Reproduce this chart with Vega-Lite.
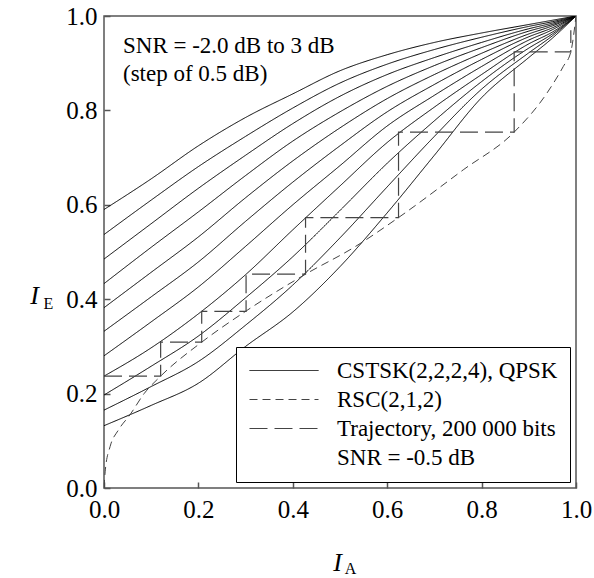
{
  "$schema": "https://vega.github.io/schema/vega-lite/v6.json",
  "width": 472,
  "height": 472,
  "autosize": {"type": "none"},
  "padding": {"left": 104, "top": 16, "right": 18, "bottom": 90},
  "background": "white",
  "config": {
    "view": {"stroke": "#555", "strokeWidth": 1.5},
    "font": "Liberation Serif"
  },
  "title": {
    "text": ["SNR = -2.0 dB to 3 dB", "(step of 0.5 dB)"],
    "anchor": "start",
    "frame": "group",
    "orient": "top",
    "offset": -82,
    "baseline": "top",
    "dx": 19,
    "font": "Liberation Serif",
    "fontSize": 23,
    "fontWeight": "normal",
    "color": "black",
    "lineHeight": 28
  },
  "datasets": {
    "curves": [
      {"snr": -2, "x": 0, "y": 0.132}, {"snr": -2, "x": 0.1, "y": 0.175}, {"snr": -2, "x": 0.2, "y": 0.222}, {"snr": -2, "x": 0.3, "y": 0.3}, {"snr": -2, "x": 0.4, "y": 0.373}, {"snr": -2, "x": 0.5, "y": 0.469}, {"snr": -2, "x": 0.6, "y": 0.583}, {"snr": -2, "x": 0.7, "y": 0.705}, {"snr": -2, "x": 0.8, "y": 0.827}, {"snr": -2, "x": 0.9, "y": 0.912}, {"snr": -2, "x": 0.95, "y": 0.953}, {"snr": -2, "x": 1, "y": 1},
      {"snr": -1.5, "x": 0, "y": 0.165}, {"snr": -1.5, "x": 0.1, "y": 0.215}, {"snr": -1.5, "x": 0.2, "y": 0.268}, {"snr": -1.5, "x": 0.3, "y": 0.345}, {"snr": -1.5, "x": 0.4, "y": 0.43}, {"snr": -1.5, "x": 0.5, "y": 0.53}, {"snr": -1.5, "x": 0.6, "y": 0.638}, {"snr": -1.5, "x": 0.7, "y": 0.745}, {"snr": -1.5, "x": 0.8, "y": 0.845}, {"snr": -1.5, "x": 0.9, "y": 0.922}, {"snr": -1.5, "x": 0.95, "y": 0.958}, {"snr": -1.5, "x": 1, "y": 1},
      {"snr": -1, "x": 0, "y": 0.197}, {"snr": -1, "x": 0.1, "y": 0.258}, {"snr": -1, "x": 0.2, "y": 0.322}, {"snr": -1, "x": 0.3, "y": 0.403}, {"snr": -1, "x": 0.4, "y": 0.49}, {"snr": -1, "x": 0.5, "y": 0.588}, {"snr": -1, "x": 0.6, "y": 0.688}, {"snr": -1, "x": 0.7, "y": 0.778}, {"snr": -1, "x": 0.8, "y": 0.861}, {"snr": -1, "x": 0.9, "y": 0.932}, {"snr": -1, "x": 0.95, "y": 0.962}, {"snr": -1, "x": 1, "y": 1},
      {"snr": -0.5, "x": 0, "y": 0.237}, {"snr": -0.5, "x": 0.1, "y": 0.297}, {"snr": -0.5, "x": 0.2, "y": 0.369}, {"snr": -0.5, "x": 0.3, "y": 0.452}, {"snr": -0.5, "x": 0.4, "y": 0.547}, {"snr": -0.5, "x": 0.5, "y": 0.64}, {"snr": -0.5, "x": 0.6, "y": 0.732}, {"snr": -0.5, "x": 0.7, "y": 0.807}, {"snr": -0.5, "x": 0.8, "y": 0.876}, {"snr": -0.5, "x": 0.9, "y": 0.941}, {"snr": -0.5, "x": 0.95, "y": 0.966}, {"snr": -0.5, "x": 1, "y": 1},
      {"snr": 0, "x": 0, "y": 0.28}, {"snr": 0, "x": 0.1, "y": 0.352}, {"snr": 0, "x": 0.2, "y": 0.426}, {"snr": 0, "x": 0.3, "y": 0.512}, {"snr": 0, "x": 0.4, "y": 0.6}, {"snr": 0, "x": 0.5, "y": 0.683}, {"snr": 0, "x": 0.6, "y": 0.767}, {"snr": 0, "x": 0.7, "y": 0.832}, {"snr": 0, "x": 0.8, "y": 0.893}, {"snr": 0, "x": 0.9, "y": 0.949}, {"snr": 0, "x": 0.95, "y": 0.971}, {"snr": 0, "x": 1, "y": 1},
      {"snr": 0.5, "x": 0, "y": 0.332}, {"snr": 0.5, "x": 0.1, "y": 0.405}, {"snr": 0.5, "x": 0.2, "y": 0.479}, {"snr": 0.5, "x": 0.3, "y": 0.565}, {"snr": 0.5, "x": 0.4, "y": 0.648}, {"snr": 0.5, "x": 0.5, "y": 0.725}, {"snr": 0.5, "x": 0.6, "y": 0.797}, {"snr": 0.5, "x": 0.7, "y": 0.855}, {"snr": 0.5, "x": 0.8, "y": 0.908}, {"snr": 0.5, "x": 0.9, "y": 0.956}, {"snr": 0.5, "x": 0.95, "y": 0.975}, {"snr": 0.5, "x": 1, "y": 1},
      {"snr": 1, "x": 0, "y": 0.382}, {"snr": 1, "x": 0.1, "y": 0.457}, {"snr": 1, "x": 0.2, "y": 0.532}, {"snr": 1, "x": 0.3, "y": 0.615}, {"snr": 1, "x": 0.4, "y": 0.693}, {"snr": 1, "x": 0.5, "y": 0.763}, {"snr": 1, "x": 0.6, "y": 0.825}, {"snr": 1, "x": 0.7, "y": 0.876}, {"snr": 1, "x": 0.8, "y": 0.921}, {"snr": 1, "x": 0.9, "y": 0.962}, {"snr": 1, "x": 0.95, "y": 0.979}, {"snr": 1, "x": 1, "y": 1},
      {"snr": 1.5, "x": 0, "y": 0.433}, {"snr": 1.5, "x": 0.1, "y": 0.51}, {"snr": 1.5, "x": 0.2, "y": 0.585}, {"snr": 1.5, "x": 0.3, "y": 0.662}, {"snr": 1.5, "x": 0.4, "y": 0.735}, {"snr": 1.5, "x": 0.5, "y": 0.797}, {"snr": 1.5, "x": 0.6, "y": 0.851}, {"snr": 1.5, "x": 0.7, "y": 0.895}, {"snr": 1.5, "x": 0.8, "y": 0.933}, {"snr": 1.5, "x": 0.9, "y": 0.968}, {"snr": 1.5, "x": 0.95, "y": 0.982}, {"snr": 1.5, "x": 1, "y": 1},
      {"snr": 2, "x": 0, "y": 0.485}, {"snr": 2, "x": 0.1, "y": 0.56}, {"snr": 2, "x": 0.2, "y": 0.635}, {"snr": 2, "x": 0.3, "y": 0.705}, {"snr": 2, "x": 0.4, "y": 0.772}, {"snr": 2, "x": 0.5, "y": 0.83}, {"snr": 2, "x": 0.6, "y": 0.876}, {"snr": 2, "x": 0.7, "y": 0.912}, {"snr": 2, "x": 0.8, "y": 0.944}, {"snr": 2, "x": 0.9, "y": 0.973}, {"snr": 2, "x": 0.95, "y": 0.985}, {"snr": 2, "x": 1, "y": 1},
      {"snr": 2.5, "x": 0, "y": 0.537}, {"snr": 2.5, "x": 0.1, "y": 0.61}, {"snr": 2.5, "x": 0.2, "y": 0.681}, {"snr": 2.5, "x": 0.3, "y": 0.745}, {"snr": 2.5, "x": 0.4, "y": 0.805}, {"snr": 2.5, "x": 0.5, "y": 0.858}, {"snr": 2.5, "x": 0.6, "y": 0.898}, {"snr": 2.5, "x": 0.7, "y": 0.929}, {"snr": 2.5, "x": 0.8, "y": 0.955}, {"snr": 2.5, "x": 0.9, "y": 0.978}, {"snr": 2.5, "x": 0.95, "y": 0.988}, {"snr": 2.5, "x": 1, "y": 1},
      {"snr": 3, "x": 0, "y": 0.59}, {"snr": 3, "x": 0.1, "y": 0.655}, {"snr": 3, "x": 0.2, "y": 0.725}, {"snr": 3, "x": 0.3, "y": 0.785}, {"snr": 3, "x": 0.4, "y": 0.835}, {"snr": 3, "x": 0.5, "y": 0.884}, {"snr": 3, "x": 0.6, "y": 0.918}, {"snr": 3, "x": 0.7, "y": 0.944}, {"snr": 3, "x": 0.8, "y": 0.964}, {"snr": 3, "x": 0.9, "y": 0.982}, {"snr": 3, "x": 0.95, "y": 0.991}, {"snr": 3, "x": 1, "y": 1}
    ],
    "rsc": [
      {"x": 0, "y": 0}, {"x": 0.003, "y": 0.04}, {"x": 0.013, "y": 0.088}, {"x": 0.03, "y": 0.122}, {"x": 0.055, "y": 0.155}, {"x": 0.085, "y": 0.2}, {"x": 0.12, "y": 0.237}, {"x": 0.207, "y": 0.309}, {"x": 0.301, "y": 0.375}, {"x": 0.427, "y": 0.453}, {"x": 0.53, "y": 0.51}, {"x": 0.624, "y": 0.573}, {"x": 0.761, "y": 0.674}, {"x": 0.869, "y": 0.754}, {"x": 0.938, "y": 0.836}, {"x": 0.973, "y": 0.893}, {"x": 0.989, "y": 0.924}, {"x": 1, "y": 1}
    ],
    "traj": [
      {"i": 0, "x": 0, "y": 0.237}, {"i": 1, "x": 0.12, "y": 0.237}, {"i": 2, "x": 0.12, "y": 0.309}, {"i": 3, "x": 0.207, "y": 0.309}, {"i": 4, "x": 0.207, "y": 0.374}, {"i": 5, "x": 0.301, "y": 0.374}, {"i": 6, "x": 0.301, "y": 0.453}, {"i": 7, "x": 0.427, "y": 0.453}, {"i": 8, "x": 0.427, "y": 0.573}, {"i": 9, "x": 0.624, "y": 0.573}, {"i": 10, "x": 0.624, "y": 0.754}, {"i": 11, "x": 0.869, "y": 0.754}, {"i": 12, "x": 0.869, "y": 0.924}, {"i": 13, "x": 0.989, "y": 0.924}, {"i": 14, "x": 0.989, "y": 0.97}
    ]
  },
  "resolve": {"axis": {"x": "independent", "y": "independent"}},
  "layer": [
    {
      "data": {"name": "curves"},
      "mark": {"type": "line", "interpolate": "monotone", "strokeWidth": 1, "clip": true},
      "encoding": {
        "x": {
          "field": "x", "type": "quantitative",
          "scale": {"domain": [0, 1], "nice": false, "zero": false},
          "axis": {
            "orient": "bottom", "values": [0, 0.2, 0.4, 0.6, 0.8, 1], "format": ".1f",
            "tickSize": -6, "tickColor": "#555", "tickWidth": 1.5, "domain": false, "grid": false,
            "labelFont": "Liberation Serif", "labelFontSize": 25, "labelColor": "black",
            "labelPadding": 15, "labelFlush": false, "labelOverlap": false,
            "title": "I", "titleFont": "Liberation Serif", "titleFontStyle": "italic", "titleFontWeight": "normal",
            "titleFontSize": 26, "titleColor": "black", "titleX": 233, "titleY": 82, "titleBaseline": "alphabetic", "titleAlign": "center"
          }
        },
        "y": {
          "field": "y", "type": "quantitative",
          "scale": {"domain": [0, 1], "nice": false, "zero": false},
          "axis": {
            "orient": "left", "values": [0, 0.2, 0.4, 0.6, 0.8, 1], "format": ".1f",
            "tickSize": -6, "tickColor": "#555", "tickWidth": 1.5, "domain": false, "grid": false,
            "labelFont": "Liberation Serif", "labelFontSize": 25, "labelColor": "black",
            "labelPadding": 13, "labelFlush": false, "labelOverlap": false,
            "title": "I", "titleFont": "Liberation Serif", "titleFontStyle": "italic", "titleFontWeight": "normal",
            "titleFontSize": 26, "titleColor": "black", "titleAngle": 0, "titleX": -70, "titleY": 287, "titleBaseline": "alphabetic", "titleAlign": "center"
          }
        },
        "detail": {"field": "snr"},
        "stroke": {
          "datum": "CSTSK(2,2,2,4), QPSK", "type": "nominal",
          "scale": {"domain": ["CSTSK(2,2,2,4), QPSK", "RSC(2,1,2)", "Trajectory, 200 000 bits", "SNR = -0.5 dB"], "range": ["black", "#444", "#444", "rgba(0,0,0,0)"]},
          "legend": {
            "title": null, "orient": "none", "legendX": 132, "legendY": 331,
            "strokeColor": "black", "fillColor": "white", "padding": 12,
            "symbolType": "M-1,0H5.9", "symbolSize": 400, "symbolStrokeWidth": 1,
            "labelFont": "Liberation Serif", "labelFontSize": 23, "labelColor": "black",
            "labelOffset": 66, "rowPadding": 5, "labelLimit": 400
          }
        },
        "strokeDash": {
          "datum": "CSTSK(2,2,2,4), QPSK", "type": "nominal",
          "scale": {"domain": ["CSTSK(2,2,2,4), QPSK", "RSC(2,1,2)", "Trajectory, 200 000 bits", "SNR = -0.5 dB"], "range": [[1, 0], [8, 5], [18, 7], [1, 0]]},
          "legend": {
            "title": null, "orient": "none", "legendX": 132, "legendY": 331,
            "strokeColor": "black", "fillColor": "white", "padding": 12,
            "symbolType": "M-1,0H5.9", "symbolSize": 400, "symbolStrokeWidth": 1,
            "labelFont": "Liberation Serif", "labelFontSize": 23, "labelColor": "black",
            "labelOffset": 66, "rowPadding": 5, "labelLimit": 400
          }
        }
      }
    },
    {
      "data": {"name": "rsc"},
      "mark": {"type": "line", "interpolate": "monotone", "strokeWidth": 1, "clip": true},
      "encoding": {
        "x": {"field": "x", "type": "quantitative", "axis": null},
        "y": {"field": "y", "type": "quantitative", "axis": null},
        "stroke": {"datum": "RSC(2,1,2)", "type": "nominal"},
        "strokeDash": {"datum": "RSC(2,1,2)", "type": "nominal"}
      }
    },
    {
      "data": {"name": "traj"},
      "mark": {"type": "line", "interpolate": "linear", "strokeWidth": 1.2, "clip": true},
      "encoding": {
        "x": {
          "field": "x", "type": "quantitative",
          "axis": {
            "orient": "top", "labels": false, "ticks": false, "domain": false, "grid": false,
            "title": "A", "titleFont": "Liberation Serif", "titleFontWeight": "normal", "titleFontSize": 16, "titleColor": "black",
            "titleX": 246, "titleY": 557, "titleBaseline": "alphabetic", "titleAlign": "center"
          }
        },
        "y": {
          "field": "y", "type": "quantitative",
          "axis": {
            "orient": "right", "labels": false, "ticks": false, "domain": false, "grid": false,
            "title": "E", "titleAngle": 0, "titleFont": "Liberation Serif", "titleFontWeight": "normal", "titleFontSize": 16, "titleColor": "black",
            "titleX": -528, "titleY": 292, "titleBaseline": "alphabetic", "titleAlign": "center"
          }
        },
        "order": {"field": "i", "type": "quantitative"},
        "stroke": {"datum": "Trajectory, 200 000 bits", "type": "nominal"},
        "strokeDash": {"datum": "Trajectory, 200 000 bits", "type": "nominal"}
      }
    }
  ]
}
